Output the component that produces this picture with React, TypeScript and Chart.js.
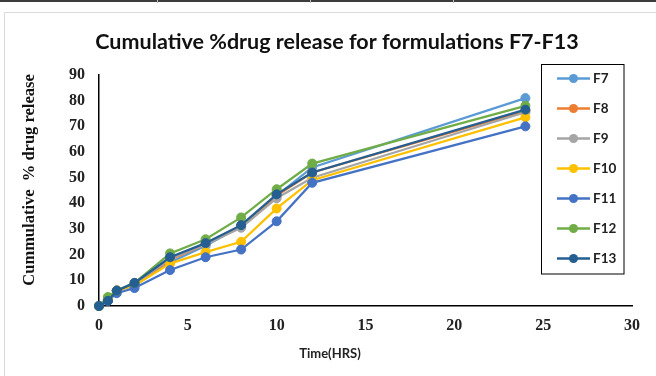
import React, { useEffect, useRef } from "react";
import { Chart, registerables } from "chart.js";

Chart.register(...registerables);

// ---- data ----
const timeHrs = [0, 0.5, 1, 2, 4, 6, 8, 10, 12, 24];
const seriesNames = ["F7", "F8", "F9", "F10", "F11", "F12", "F13"];
const F7 = [0, 2.5, 6, 8, 17, 23.5, 31, 43, 54, 81];
const F8 = [0, 2.5, 6, 8.5, 18, 24, 31, 43, 52, 76];
const F9 = [0, 2, 6, 8.5, 18.5, 24, 30.5, 42, 50, 75.5];
const F10 = [0, 2.5, 6, 8, 16.5, 21, 25, 38, 49, 73.5];
const F11 = [0, 2, 5, 7, 14, 19, 22, 33, 48, 70];
const F12 = [0, 3.5, 6, 9, 20.5, 26, 34.5, 45.5, 55.5, 78];
const F13 = [0, 2, 6, 9, 19, 24.5, 31.5, 43.5, 52, 76.5];
const seriesValues = [F7, F8, F9, F10, F11, F12, F13];
const seriesColors = ["#5B9BD5", "#ED7D31", "#A5A5A5", "#FFC000", "#4472C4", "#70AD47", "#255E91"];

const chartTitle = "Cumulative %drug release for formulations F7-F13";
const xTitle = "Time(HRS)";
const yTitle = "Cummulative  % drug release";

const W = 656;
const H = 376;

const serif = "'Liberation Serif', 'Times New Roman', serif";
const sans = "Lato, 'Open Sans', sans-serif";

const decorPlugin = {
  id: "decor",
  beforeDraw(chart: any) {
    const ctx = chart.ctx;
    ctx.save();
    ctx.fillStyle = "#ffffff";
    ctx.fillRect(0, 0, W, H);
    // top page border
    ctx.fillStyle = "#3c3c3c";
    ctx.fillRect(0, 0, W, 2);
    ctx.fillStyle = "#bdbdbd";
    [157, 310, 453].forEach((x) => ctx.fillRect(x, 0, 1, 3));
    // chart box border
    ctx.strokeStyle = "#d9d9d9";
    ctx.lineWidth = 1;
    ctx.beginPath();
    ctx.moveTo(4.5, H);
    ctx.lineTo(4.5, 12.5);
    ctx.lineTo(W, 12.5);
    ctx.stroke();
    ctx.restore();
  },
  afterDraw(chart: any) {
    const ctx = chart.ctx;
    ctx.save();
    // title
    ctx.fillStyle = "#111";
    ctx.font = `bold 21.5px ${sans}`;
    ctx.textAlign = "center";
    ctx.textBaseline = "middle";
    ctx.fillText(chartTitle, 337, 42);
    // x axis title
    ctx.font = `bold 13px ${sans}`;
    ctx.fillStyle = "#222";
    ctx.fillText(xTitle, 330, 354);
    // y axis title
    ctx.save();
    ctx.translate(29.5, 180);
    ctx.rotate(-Math.PI / 2);
    ctx.font = `bold 16.5px ${serif}`;
    ctx.fillStyle = "#111";
    ctx.fillText(yTitle, 0, 0);
    ctx.restore();
    // legend
    ctx.strokeStyle = "#000";
    ctx.lineWidth = 1;
    ctx.strokeRect(541.5, 64.5, 82.5, 209.5);
    chart.data.datasets.forEach((ds: any, i: number) => {
      const y = 78.5 + i * 30;
      ctx.strokeStyle = ds.borderColor;
      ctx.lineWidth = 2.5;
      ctx.beginPath();
      ctx.moveTo(557, y);
      ctx.lineTo(590, y);
      ctx.stroke();
      ctx.fillStyle = ds.borderColor;
      ctx.beginPath();
      ctx.arc(573.5, y, 4.5, 0, Math.PI * 2);
      ctx.fill();
      ctx.fillStyle = "#222";
      ctx.font = `bold 13.5px ${sans}`;
      ctx.textAlign = "left";
      ctx.textBaseline = "middle";
      ctx.fillText(ds.label, 593, y + 0.5);
    });
    ctx.restore();
  },
};

export default function App() {
  const ref = useRef<HTMLCanvasElement>(null);

  useEffect(() => {
    if (!ref.current) return;
    const datasets = seriesNames.map((name, i) => ({
      label: name,
      data: timeHrs.map((t, j) => ({ x: t, y: seriesValues[i][j] })),
      borderColor: seriesColors[i],
      backgroundColor: seriesColors[i],
      pointBackgroundColor: seriesColors[i],
      pointBorderColor: seriesColors[i],
      borderWidth: 2.25,
      pointRadius: 4.5,
      pointBorderWidth: 1,
      tension: 0,
      clip: false,
      order: seriesNames.length - i,
    }));
    const chart = new Chart(ref.current, {
      type: "line",
      data: { datasets },
      plugins: [decorPlugin],
      options: {
        responsive: false,
        animation: false,
        devicePixelRatio: 1,
        layout: { padding: { top: 75, right: 24, bottom: 30, left: 0 } },
        plugins: {
          legend: { display: false },
          title: { display: false },
          tooltip: { enabled: false },
        },
        scales: {
          x: {
            type: "linear",
            min: 0,
            max: 30,
            ticks: {
              stepSize: 5,
              padding: 10,
              color: "#222",
              font: { family: serif, size: 16, weight: "bold" },
            },
            grid: { display: false, drawTicks: false },
            border: { display: true, color: "#000", width: 1.5 },
            afterFit: (s: any) => {
              s.height = 40;
            },
          },
          y: {
            min: 0,
            max: 90,
            ticks: {
              stepSize: 10,
              padding: 14,
              color: "#222",
              font: { family: serif, size: 16, weight: "bold" },
            },
            grid: { display: false, drawTicks: false },
            border: { display: true, color: "#000", width: 1.5 },
            afterFit: (s: any) => {
              s.width = 99;
            },
          },
        },
      },
    } as any);
    return () => chart.destroy();
  }, []);

  return (
    <div style={{ position: "fixed", left: 0, top: 0, width: W, height: H, background: "#fff" }}>
      <canvas ref={ref} width={W} height={H} style={{ display: "block", width: W, height: H }} />
    </div>
  );
}
